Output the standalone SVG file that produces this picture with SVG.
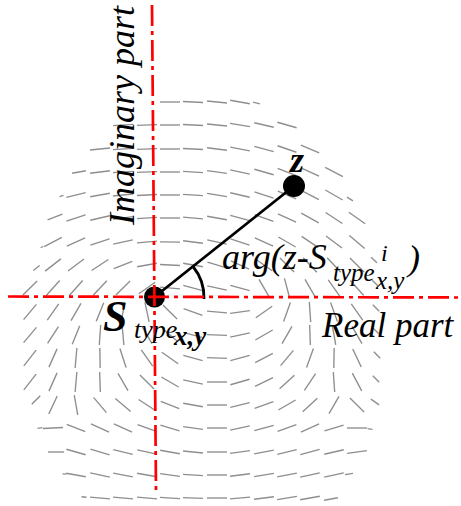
<svg xmlns="http://www.w3.org/2000/svg" xmlns:xlink="http://www.w3.org/1999/xlink" width="461" height="506" viewBox="0 0 461 506">
<style>
.fld use{stroke:#8e8e8e;stroke-width:1.35;fill:none}
.ax{stroke:#f00;stroke-width:2.7;stroke-dasharray:21 5 4 5;fill:none}
.blk{stroke:#000;stroke-width:2.8;fill:none}
.lbl{font-family:"Liberation Serif","Times New Roman",serif;font-style:italic;fill:#000}
</style>
<defs>
<line id="s" x1="-10" y1="0" x2="10" y2="0"/>
</defs>
<rect width="461" height="506" fill="#fff"/>
<g id="field" class="fld">
<use href="#s" transform="translate(170 102)"/>
<use href="#s" transform="translate(193 102) rotate(3)"/>
<use href="#s" transform="translate(217 102) rotate(6)"/>
<use href="#s" transform="translate(240 102) rotate(10)"/>
<use href="#s" transform="translate(256.5 103) rotate(13) scale(.35 1)"/>

<use href="#s" transform="translate(123 125) rotate(-4)"/>
<use href="#s" transform="translate(147 125) rotate(-2)"/>
<use href="#s" transform="translate(170 125)"/>
<use href="#s" transform="translate(193 125) rotate(3)"/>
<use href="#s" transform="translate(217 125) rotate(6)"/>
<use href="#s" transform="translate(240 125) rotate(9)"/>
<use href="#s" transform="translate(264 125) rotate(13)"/>
<use href="#s" transform="translate(287 125) rotate(16)"/>

<use href="#s" transform="translate(100 149) rotate(-6)"/>
<use href="#s" transform="translate(123 149) rotate(-4)"/>
<use href="#s" transform="translate(147 149) rotate(-2)"/>
<use href="#s" transform="translate(170 149)"/>
<use href="#s" transform="translate(193 149) rotate(3)"/>
<use href="#s" transform="translate(217 149) rotate(7)"/>
<use href="#s" transform="translate(240 149) rotate(11)"/>
<use href="#s" transform="translate(264 149) rotate(15)"/>
<use href="#s" transform="translate(287 149) rotate(19)"/>
<use href="#s" transform="translate(310 149) rotate(23)"/>

<use href="#s" transform="translate(79 172) rotate(-10) scale(.7 1)"/>
<use href="#s" transform="translate(100 172) rotate(-7)"/>
<use href="#s" transform="translate(123 172) rotate(-4)"/>
<use href="#s" transform="translate(147 172) rotate(-2)"/>
<use href="#s" transform="translate(170 172)"/>
<use href="#s" transform="translate(193 172) rotate(4)"/>
<use href="#s" transform="translate(217 172) rotate(8)"/>
<use href="#s" transform="translate(240 172) rotate(12)"/>
<use href="#s" transform="translate(264 172) rotate(16)"/>
<use href="#s" transform="translate(287 172) rotate(21)"/>
<use href="#s" transform="translate(310 172) rotate(25)"/>
<use href="#s" transform="translate(334 172) rotate(28)"/>

<use href="#s" transform="translate(61.5 196) rotate(-18) scale(.2 1)"/>
<use href="#s" transform="translate(76 195) rotate(-14)"/>
<use href="#s" transform="translate(100 195) rotate(-10)"/>
<use href="#s" transform="translate(123 195) rotate(-6)"/>
<use href="#s" transform="translate(147 195) rotate(-3)"/>
<use href="#s" transform="translate(170 195)"/>
<use href="#s" transform="translate(193 195) rotate(4)"/>
<use href="#s" transform="translate(217 195) rotate(9)"/>
<use href="#s" transform="translate(240 195) rotate(13)"/>
<use href="#s" transform="translate(264 195) rotate(18)"/>
<use href="#s" transform="translate(287 195) rotate(23)"/>
<use href="#s" transform="translate(310 195) rotate(27)"/>
<use href="#s" transform="translate(334 195) rotate(30)"/>
<use href="#s" transform="translate(350 199) rotate(32) scale(.35 1)"/>

<use href="#s" transform="translate(55 217) rotate(-22) scale(.8 1)"/>
<use href="#s" transform="translate(76 218) rotate(-18)"/>
<use href="#s" transform="translate(100 218) rotate(-13)"/>
<use href="#s" transform="translate(123 218) rotate(-8)"/>
<use href="#s" transform="translate(147 218) rotate(-4)"/>
<use href="#s" transform="translate(170 218)"/>
<use href="#s" transform="translate(193 218) rotate(5)"/>
<use href="#s" transform="translate(217 218) rotate(10)"/>
<use href="#s" transform="translate(240 218) rotate(15)"/>
<use href="#s" transform="translate(264 218) rotate(20)"/>
<use href="#s" transform="translate(287 218) rotate(25)"/>
<use href="#s" transform="translate(310 218) rotate(29)"/>
<use href="#s" transform="translate(334 218) rotate(33)"/>
<use href="#s" transform="translate(357 218) rotate(35)"/>

<use href="#s" transform="translate(42 247) rotate(-30) scale(.15 1)"/>
<use href="#s" transform="translate(53 242) rotate(-28)"/>
<use href="#s" transform="translate(76 242) rotate(-24)"/>
<use href="#s" transform="translate(100 242) rotate(-18)"/>
<use href="#s" transform="translate(123 242) rotate(-12)"/>
<use href="#s" transform="translate(147 242) rotate(-5)"/>
<use href="#s" transform="translate(170 242) rotate(1)"/>
<use href="#s" transform="translate(193 242) rotate(7)"/>
<use href="#s" transform="translate(217 242) rotate(12)"/>
<use href="#s" transform="translate(240 242) rotate(18)"/>
<use href="#s" transform="translate(264 242) rotate(24)"/>
<use href="#s" transform="translate(287 242) rotate(30)"/>
<use href="#s" transform="translate(310 242) rotate(34)"/>
<use href="#s" transform="translate(334 242) rotate(37)"/>
<use href="#s" transform="translate(357 242) rotate(40)"/>

<use href="#s" transform="translate(36.5 268) rotate(-38) scale(.4 1)"/>
<use href="#s" transform="translate(53 265) rotate(-38)"/>
<use href="#s" transform="translate(76 265) rotate(-37)"/>
<use href="#s" transform="translate(100 265) rotate(-33)"/>
<use href="#s" transform="translate(123 265) rotate(-22)"/>
<use href="#s" transform="translate(147 265) rotate(-10)"/>
<use href="#s" transform="translate(170 265) rotate(3)"/>
<use href="#s" transform="translate(193 265) rotate(10)"/>
<use href="#s" transform="translate(217 265) rotate(17)"/>
<use href="#s" transform="translate(240 265) rotate(25)"/>
<use href="#s" transform="translate(264 265) rotate(35)"/>
<use href="#s" transform="translate(287 265) rotate(45)"/>
<use href="#s" transform="translate(310 265) rotate(47)"/>
<use href="#s" transform="translate(334 265) rotate(47)"/>
<use href="#s" transform="translate(357 265) rotate(45)"/>
<use href="#s" transform="translate(374 260) rotate(43) scale(.4 1)"/>

<use href="#s" transform="translate(30 288) rotate(-45)"/>
<use href="#s" transform="translate(53 288) rotate(-48)"/>
<use href="#s" transform="translate(76 288) rotate(-48)"/>
<use href="#s" transform="translate(100 288) rotate(-47)"/>
<use href="#s" transform="translate(123 288) rotate(-45)"/>
<use href="#s" transform="translate(147 288) rotate(-35)"/>
<use href="#s" transform="translate(170 288) rotate(5)"/>
<use href="#s" transform="translate(193 288) rotate(15)"/>
<use href="#s" transform="translate(217 288) rotate(12)"/>
<use href="#s" transform="translate(240 288) rotate(15)"/>
<use href="#s" transform="translate(264 288) rotate(60)"/>
<use href="#s" transform="translate(287 288) rotate(75)"/>
<use href="#s" transform="translate(310 288) rotate(60)"/>
<use href="#s" transform="translate(334 288) rotate(55)"/>
<use href="#s" transform="translate(357 288) rotate(48)"/>
<use href="#s" transform="translate(375 283) rotate(45) scale(.4 1)"/>

<use href="#s" transform="translate(30 312) rotate(-50)"/>
<use href="#s" transform="translate(53 312) rotate(-55)"/>
<use href="#s" transform="translate(76 312) rotate(-60)"/>
<use href="#s" transform="translate(100 312) rotate(-68)"/>
<use href="#s" transform="translate(123 312) rotate(-80)"/>
<use href="#s" transform="translate(147 312) rotate(78)"/>
<use href="#s" transform="translate(170 312) rotate(45)"/>
<use href="#s" transform="translate(193 312) rotate(20)"/>
<use href="#s" transform="translate(217 312) rotate(5)"/>
<use href="#s" transform="translate(240 312) rotate(-8)"/>
<use href="#s" transform="translate(264 312) rotate(-35)"/>
<use href="#s" transform="translate(287 312) rotate(-70)"/>
<use href="#s" transform="translate(310 312) rotate(86)"/>
<use href="#s" transform="translate(334 312) rotate(70)"/>
<use href="#s" transform="translate(357 312) rotate(55)"/>
<use href="#s" transform="translate(376 308) rotate(45) scale(.45 1)"/>

<use href="#s" transform="translate(30 335) rotate(-50)"/>
<use href="#s" transform="translate(53 335) rotate(-57)"/>
<use href="#s" transform="translate(76 335) rotate(-68)"/>
<use href="#s" transform="translate(100 335) rotate(-86)"/>
<use href="#s" transform="translate(123 335) rotate(85)"/>
<use href="#s" transform="translate(147 335) rotate(60)"/>
<use href="#s" transform="translate(170 335) rotate(40)"/>
<use href="#s" transform="translate(193 335) rotate(15)"/>
<use href="#s" transform="translate(217 335) rotate(2)"/>
<use href="#s" transform="translate(240 335) rotate(-12)"/>
<use href="#s" transform="translate(264 335) rotate(-30)"/>
<use href="#s" transform="translate(287 335) rotate(-60)"/>
<use href="#s" transform="translate(310 335) rotate(88)"/>
<use href="#s" transform="translate(334 335) rotate(80)"/>
<use href="#s" transform="translate(357 335) rotate(60)"/>
<use href="#s" transform="translate(376 331) rotate(45) scale(.4 1)"/>

<use href="#s" transform="translate(30 358) rotate(-52)"/>
<use href="#s" transform="translate(53 358) rotate(-66)"/>
<use href="#s" transform="translate(76 358) rotate(-85)"/>
<use href="#s" transform="translate(100 358) rotate(89)"/>
<use href="#s" transform="translate(123 358) rotate(72)"/>
<use href="#s" transform="translate(147 358) rotate(55)"/>
<use href="#s" transform="translate(170 358) rotate(35)"/>
<use href="#s" transform="translate(193 358) rotate(15)"/>
<use href="#s" transform="translate(217 358) rotate(2)"/>
<use href="#s" transform="translate(240 358) rotate(-15)"/>
<use href="#s" transform="translate(264 358) rotate(-28)"/>
<use href="#s" transform="translate(287 358) rotate(-50)"/>
<use href="#s" transform="translate(310 358) rotate(-70)"/>
<use href="#s" transform="translate(334 358) rotate(-89)"/>
<use href="#s" transform="translate(357 358) rotate(65)"/>
<use href="#s" transform="translate(377 355) rotate(45) scale(.45 1)"/>

<use href="#s" transform="translate(30 382) rotate(-52)"/>
<use href="#s" transform="translate(53 382) rotate(-66)"/>
<use href="#s" transform="translate(76 382) rotate(-85)"/>
<use href="#s" transform="translate(100 382) rotate(88)"/>
<use href="#s" transform="translate(123 382) rotate(60)"/>
<use href="#s" transform="translate(147 382) rotate(45)"/>
<use href="#s" transform="translate(170 382) rotate(30)"/>
<use href="#s" transform="translate(193 382) rotate(12)"/>
<use href="#s" transform="translate(217 382)"/>
<use href="#s" transform="translate(240 382) rotate(-16)"/>
<use href="#s" transform="translate(264 382) rotate(-26)"/>
<use href="#s" transform="translate(287 382) rotate(-42)"/>
<use href="#s" transform="translate(310 382) rotate(-56)"/>
<use href="#s" transform="translate(334 382) rotate(86)"/>
<use href="#s" transform="translate(357 382) rotate(62)"/>
<use href="#s" transform="translate(376 379) rotate(45) scale(.45 1)"/>

<use href="#s" transform="translate(36 400) rotate(-45) scale(.6 1)"/>
<use href="#s" transform="translate(53 405) rotate(-65)"/>
<use href="#s" transform="translate(76 405) rotate(80)"/>
<use href="#s" transform="translate(100 405) rotate(50)"/>
<use href="#s" transform="translate(123 405) rotate(40)"/>
<use href="#s" transform="translate(147 405) rotate(33)"/>
<use href="#s" transform="translate(170 405) rotate(22)"/>
<use href="#s" transform="translate(193 405) rotate(10)"/>
<use href="#s" transform="translate(217 405)"/>
<use href="#s" transform="translate(240 405) rotate(-14)"/>
<use href="#s" transform="translate(264 405) rotate(-20)"/>
<use href="#s" transform="translate(287 405) rotate(-30)"/>
<use href="#s" transform="translate(310 405) rotate(-43)"/>
<use href="#s" transform="translate(334 405) rotate(-60)"/>
<use href="#s" transform="translate(357 405) rotate(45)"/>
<use href="#s" transform="translate(375 402) rotate(35) scale(.5 1)"/>

<use href="#s" transform="translate(40 428) rotate(-10) scale(.25 1)"/>
<use href="#s" transform="translate(53 428) rotate(-3)"/>
<use href="#s" transform="translate(76 428) rotate(22)"/>
<use href="#s" transform="translate(100 428) rotate(25)"/>
<use href="#s" transform="translate(123 428) rotate(25)"/>
<use href="#s" transform="translate(147 428) rotate(20)"/>
<use href="#s" transform="translate(170 428) rotate(17)"/>
<use href="#s" transform="translate(193 428) rotate(8)"/>
<use href="#s" transform="translate(217 428)"/>
<use href="#s" transform="translate(240 428) rotate(-12)"/>
<use href="#s" transform="translate(264 428) rotate(-15)"/>
<use href="#s" transform="translate(287 428) rotate(-20)"/>
<use href="#s" transform="translate(310 428) rotate(-24)"/>
<use href="#s" transform="translate(334 428) rotate(-17)"/>
<use href="#s" transform="translate(357 428)"/>
<use href="#s" transform="translate(370 429) rotate(10) scale(.25 1)"/>

<use href="#s" transform="translate(56 452) scale(.8 1)"/>
<use href="#s" transform="translate(76 452) rotate(16)"/>
<use href="#s" transform="translate(100 452) rotate(17)"/>
<use href="#s" transform="translate(123 452) rotate(14)"/>
<use href="#s" transform="translate(147 452) rotate(12)"/>
<use href="#s" transform="translate(170 452) rotate(10)"/>
<use href="#s" transform="translate(193 452) rotate(6)"/>
<use href="#s" transform="translate(217 452)"/>
<use href="#s" transform="translate(240 452) rotate(-8)"/>
<use href="#s" transform="translate(264 452) rotate(-11)"/>
<use href="#s" transform="translate(287 452) rotate(-14)"/>
<use href="#s" transform="translate(310 452) rotate(-15)"/>
<use href="#s" transform="translate(334 452) rotate(-13)"/>
<use href="#s" transform="translate(357 452) rotate(-8)"/>

<use href="#s" transform="translate(64.5 474) rotate(5) scale(.2 1)"/>
<use href="#s" transform="translate(76 475) rotate(10)"/>
<use href="#s" transform="translate(100 475) rotate(12)"/>
<use href="#s" transform="translate(123 475) rotate(11)"/>
<use href="#s" transform="translate(147 475) rotate(10)"/>
<use href="#s" transform="translate(170 475) rotate(8)"/>
<use href="#s" transform="translate(193 475) rotate(4)"/>
<use href="#s" transform="translate(217 475)"/>
<use href="#s" transform="translate(240 475) rotate(-7)"/>
<use href="#s" transform="translate(264 475) rotate(-9)"/>
<use href="#s" transform="translate(287 475) rotate(-11)"/>
<use href="#s" transform="translate(310 475) rotate(-12)"/>
<use href="#s" transform="translate(334 475) rotate(-12)"/>
<use href="#s" transform="translate(349 474) rotate(-8) scale(.4 1)"/>

<use href="#s" transform="translate(84 497) rotate(5) scale(.25 1)"/>
<use href="#s" transform="translate(100 498) rotate(5)"/>
<use href="#s" transform="translate(123 498) rotate(5)"/>
<use href="#s" transform="translate(147 498) rotate(5)"/>
<use href="#s" transform="translate(170 498) rotate(4)"/>
<use href="#s" transform="translate(193 498) rotate(2)"/>
<use href="#s" transform="translate(217 498)"/>
<use href="#s" transform="translate(240 498) rotate(-5)"/>
<use href="#s" transform="translate(264 498) rotate(-7)"/>
<use href="#s" transform="translate(287 498) rotate(-9)"/>
<use href="#s" transform="translate(310 498) rotate(-10)"/>
<use href="#s" transform="translate(331 499) rotate(-10) scale(.7 1)"/>
</g>
<g id="connectors">
<line class="blk" x1="154.5" y1="297" x2="294" y2="186"/>
<path class="blk" d="M204 299 A49 49 0 0 0 193 266.5"/>
</g>
<g id="node-S">
<circle cx="154.5" cy="297" r="10.5" fill="#000"/>
</g>
<g id="node-z">
<circle cx="294" cy="186" r="11" fill="#000"/>
<text class="lbl" x="290" y="172" font-size="36" font-weight="bold">z</text>
</g>
<g id="axes">
<line class="ax" x1="152" y1="5" x2="156" y2="493"/>
<line class="ax" x1="8" y1="296.5" x2="461" y2="297.5"/>
</g>
<g id="labels">
<text class="lbl" font-size="36" transform="translate(134 225) rotate(-90)">Imaginary part</text>
<text class="lbl" x="322" y="337" font-size="35">Real part</text>
<text class="lbl" x="222" y="269" font-size="36">arg(z-S</text>
<text class="lbl" x="333" y="281" font-size="25">type</text>
<text class="lbl" x="381" y="261" font-size="24">i</text>
<text class="lbl" x="376" y="289" font-size="25">x,y</text>
<text class="lbl" x="408" y="270" font-size="36">)</text>
<text class="lbl" x="103" y="331" font-size="44" font-weight="bold">S</text>
<text class="lbl" x="134" y="338" font-size="26">type</text>
<text class="lbl" x="174" y="345" font-size="27" font-weight="bold">x,y</text>
</g>
</svg>
